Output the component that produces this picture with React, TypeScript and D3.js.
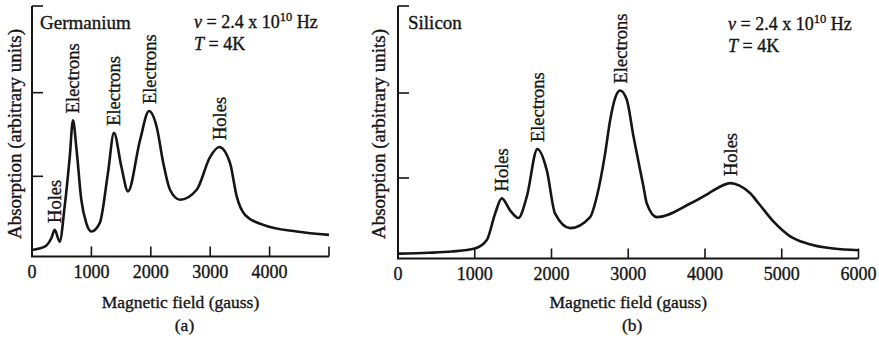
import React from "react";
import * as d3 from "d3";

// Germanium (a)
const GE_FIELD = [0, 214, 325, 382, 466, 550, 635, 690, 746, 830, 914, 998, 1140, 1279, 1380, 1503, 1616, 1818, 1970, 2099, 2210, 2323, 2492, 2773, 2997, 3153, 3333, 3446, 3586, 3894, 4456, 5000];
const GE_ABS = [0.12, 0.16, 0.26, 0.36, 0.22, 0.64, 1.23, 1.67, 1.35, 0.72, 0.44, 0.34, 0.44, 1.04, 1.52, 1.12, 0.82, 1.43, 1.78, 1.59, 1.16, 0.84, 0.72, 0.84, 1.23, 1.35, 1.16, 0.76, 0.54, 0.42, 0.34, 0.3];
const GE_TICKS = [0, 1000, 2000, 3000, 4000, 5000];
const GE_TICK_LABELS = ["0", "1000", "2000", "3000", "4000", ""];
const GE_PEAK_FIELDS = [382, 690, 1380, 1970, 3153];
const GE_PEAK_VALUES = [0.36, 1.67, 1.52, 1.78, 1.35];
const GE_PEAK_LABELS = ["Holes", "Electrons", "Electrons", "Electrons", "Holes"];

// Silicon (b)
const SI_FIELD = [0, 400, 700, 1000, 1157, 1265, 1352, 1460, 1568, 1678, 1816, 1939, 2047, 2243, 2503, 2590, 2699, 2764, 2829, 2894, 2981, 3068, 3198, 3242, 3373, 3807, 4068, 4200, 4328, 4450, 4589, 4700, 4900, 5100, 5329, 5675, 6000];
const SI_ABS = [0.11, 0.12, 0.135, 0.17, 0.27, 0.58, 0.76, 0.62, 0.53, 0.78, 1.34, 1.09, 0.58, 0.41, 0.54, 0.78, 1.29, 1.68, 1.94, 2.03, 1.92, 1.49, 0.9, 0.7, 0.54, 0.7, 0.83, 0.9, 0.94, 0.91, 0.82, 0.7, 0.48, 0.32, 0.23, 0.17, 0.15];
const SI_TICKS = [0, 1000, 2000, 3000, 4000, 5000, 6000];
const SI_TICK_LABELS = ["0", "1000", "2000", "3000", "4000", "5000", "6000"];
const SI_PEAK_FIELDS = [1352, 1816, 2894, 4328];
const SI_PEAK_VALUES = [0.76, 1.34, 2.03, 0.94];
const SI_PEAK_LABELS = ["Holes", "Electrons", "Electrons", "Holes"];

const Y_TICKS = [1, 2];
const Y_LABEL = "Absorption (arbitrary units)";
const X_LABEL = "Magnetic field (gauss)";

const FONT = "'Liberation Serif', 'Times New Roman', serif";
const INK = "#151515";

type PanelProps = {
  field: number[];
  abs: number[];
  xMax: number;
  x0: number;
  x1: number;
  axisY: number;
  yRange: [number, number];
  ticks: number[];
  tickLabels: string[];
  peakFields: number[];
  peakValues: number[];
  peakLabels: string[];
  title: string;
  titleX: number;
  condX: number;
  condY: number;
  yLabelX: number;
  sub: string;
};

function Panel(p: PanelProps) {
  const x = d3.scaleLinear().domain([0, p.xMax]).range([p.x0, p.x1]);
  const y = d3.scaleLinear().domain([0, 3]).range(p.yRange);
  const pts = p.field.map((f, i) => [f, p.abs[i]] as [number, number]);
  const line = d3
    .line<[number, number]>()
    .x((d) => x(d[0]))
    .y((d) => y(d[1]))
    .curve(d3.curveMonotoneX);
  const top = 6;
  const cx = (p.x0 + p.x1) / 2;
  return (
    <g fontFamily={FONT} fill={INK} stroke={INK} strokeWidth={0.35}>
      {/* axes */}
      <path
        d={`M${p.x0},${top}V${p.axisY}H${p.x1}`}
        fill="none"
        stroke={INK}
        strokeWidth={2}
      />
      <line x1={p.x0} x2={p.x0 + 11} y1={top} y2={top} stroke={INK} strokeWidth={1.6} />
      {Y_TICKS.map((t) => (
        <line key={t} x1={p.x0} x2={p.x0 + 11} y1={y(t)} y2={y(t)} stroke={INK} strokeWidth={1.6} />
      ))}
      {p.ticks.map((t, i) => (
        <g key={t}>
          <line x1={x(t)} x2={x(t)} y1={p.axisY} y2={p.axisY - 10} stroke={INK} strokeWidth={1.6} />
          <text x={x(t)} y={p.axisY + 21} fontSize={18} textAnchor="middle">
            {p.tickLabels[i]}
          </text>
        </g>
      ))}
      {/* curve */}
      <path d={line(pts) || ""} fill="none" stroke={INK} strokeWidth={2.6} strokeLinejoin="round" />
      {/* peak labels */}
      {p.peakFields.map((f, i) => (
        <text
          key={i}
          transform={`translate(${x(f)},${y(p.peakValues[i]) - 7}) rotate(-90)`}
          dy="0.35em"
          fontSize={18.5}
        >
          {p.peakLabels[i]}
        </text>
      ))}
      {/* titles */}
      <text x={p.titleX} y={29} fontSize={19}>
        {p.title}
      </text>
      <text x={p.condX} y={p.condY} fontSize={18}>
        <tspan fontStyle="italic">ν</tspan>
        <tspan> = 2.4 x 10</tspan>
        <tspan dy={-7} fontSize={12.5}>10</tspan>
        <tspan dy={7}> Hz</tspan>
      </text>
      <text x={p.condX} y={p.condY + 22} fontSize={18}>
        <tspan fontStyle="italic">T</tspan>
        <tspan> = 4K</tspan>
      </text>
      <text
        transform={`translate(${p.yLabelX},134) rotate(-90)`}
        textAnchor="middle"
        dy="0.35em"
        fontSize={19}
      >
        {Y_LABEL}
      </text>
      <text x={cx} y={308} textAnchor="middle" fontSize={17.5}>
        {X_LABEL}
      </text>
      <text x={cx + 4} y={331} textAnchor="middle" fontSize={17.5}>
        {p.sub}
      </text>
    </g>
  );
}

export default function App() {
  return (
    <svg
      width={879}
      height={342}
      style={{ position: "absolute", left: 0, top: 0, background: "#fff" }}
    >
      <rect width={879} height={342} fill="#fff" />
      <Panel
        field={GE_FIELD}
        abs={GE_ABS}
        xMax={5000}
        x0={32}
        x1={329}
        axisY={256.5}
        yRange={[260, 9]}
        ticks={GE_TICKS}
        tickLabels={GE_TICK_LABELS}
        peakFields={GE_PEAK_FIELDS}
        peakValues={GE_PEAK_VALUES}
        peakLabels={GE_PEAK_LABELS}
        title="Germanium"
        titleX={40}
        condX={194}
        condY={28}
        yLabelX={14}
        sub="(a)"
      />
      <Panel
        field={SI_FIELD}
        abs={SI_ABS}
        xMax={6000}
        x0={398}
        x1={858.5}
        axisY={258.5}
        yRange={[263, 8]}
        ticks={SI_TICKS}
        tickLabels={SI_TICK_LABELS}
        peakFields={SI_PEAK_FIELDS}
        peakValues={SI_PEAK_VALUES}
        peakLabels={SI_PEAK_LABELS}
        title="Silicon"
        titleX={408}
        condX={728}
        condY={30}
        yLabelX={378}
        sub="(b)"
      />
    </svg>
  );
}
